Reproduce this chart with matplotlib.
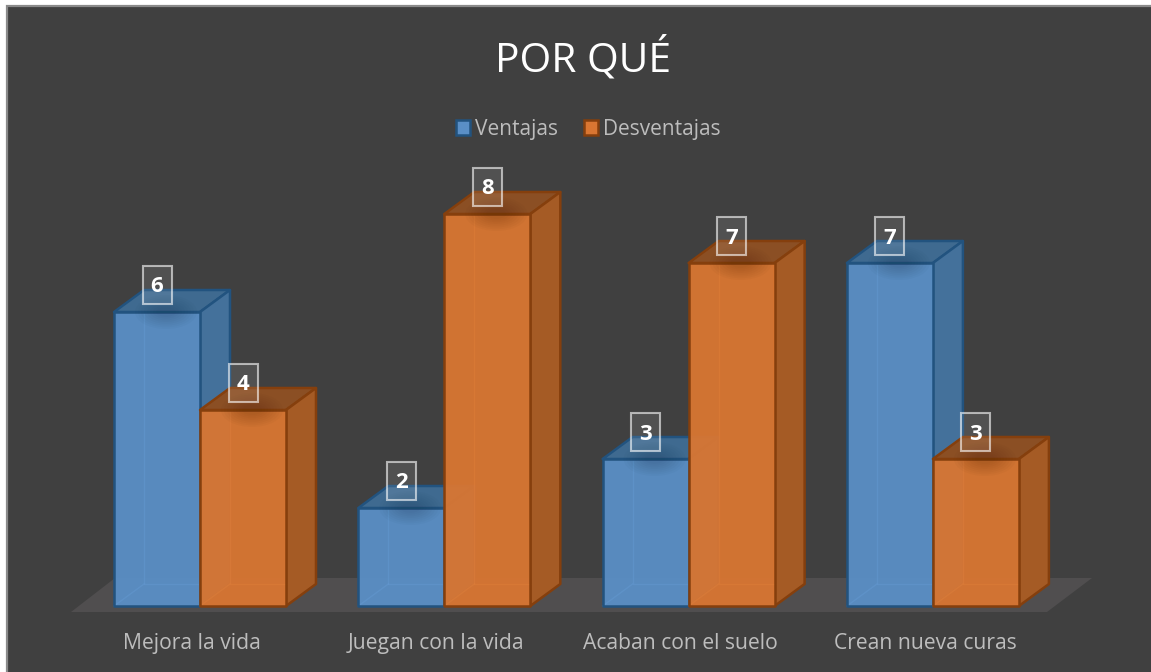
import matplotlib
matplotlib.use("Agg")
import matplotlib.pyplot as plt
from matplotlib.patches import Polygon, Rectangle, Ellipse

categories = ["Mejora la vida", "Juegan con la vida", "Acaban con el suelo", "Crean nueva curas"]
ventajas = [6, 2, 3, 7]
desventajas = [4, 8, 7, 3]
series_names = ["Ventajas", "Desventajas"]

W, H = 1151, 672
PX_X, PX_Y = 244.3, 49.0      # pixels per category / per value
X0_PX, Y0_PX = 200.0, 606.0   # pixel position of category 0 / value 0

plt.rcParams['font.family'] = ['Open Sans', 'DejaVu Sans']
fig = plt.figure(figsize=(W / 100, H / 100), dpi=100, facecolor="white")
ax = fig.add_axes([0, 0, 1, 1])
ax.set_xlim(-X0_PX / PX_X, (W - X0_PX) / PX_X)
ax.set_ylim(-(H - Y0_PX) / PX_Y, Y0_PX / PX_Y)
ax.axis("off")

bw = 86 / PX_X
dx, dy = 30 / PX_X, 22 / PX_Y
BG = "#404040"


def px(xp):
    return (xp - X0_PX) / PX_X


def py(yp):
    return (Y0_PX - yp) / PX_Y


# chart area with its frame; white margin on the left and top only
ax.add_patch(Rectangle((px(6.5), py(H + 5)), (W + 5 - 6.5) / PX_X, (H + 5 - 5.5) / PX_Y,
                       fc=BG, ec="#8a8a8a", lw=1.6, zorder=0))

ax.add_patch(Polygon([(px(71), py(612)), (px(1047), py(612)), (px(1092), py(578)), (px(115), py(578))],
                     closed=True, fc="#504e4f", ec="none", zorder=1))

BLUE = dict(front="#5a8fc6", side="#44719b", top="#3f6a90", edge="#22537f", inner="#6aa2dc", glow="#16324e")
ORANGE = dict(front="#d97632", side="#a55b25", top="#8b4f24", edge="#853f0d", inner="#e8843a", glow="#4a2206")


def bar3d(x0, val, c, z):
    x1 = x0 + bw
    lw = 1.8
    front = [(x0, 0), (x1, 0), (x1, val), (x0, val)]
    side = [(x1, 0), (x1 + dx, dy), (x1 + dx, val + dy), (x1, val)]
    top = [(x0, val), (x1, val), (x1 + dx, val + dy), (x0 + dx, val + dy)]
    ax.add_patch(Polygon(top, closed=True, fc=c["top"], ec=c["edge"], lw=lw, joinstyle="round", zorder=z))
    ax.add_patch(Polygon(side, closed=True, fc=c["side"], ec=c["edge"], lw=lw, joinstyle="round", zorder=z))
    ax.add_patch(Polygon(front, closed=True, fc=c["front"], ec="none", alpha=.95, zorder=z + 0.1))
    ax.add_patch(Polygon(front, closed=True, fc="none", ec=c["edge"], lw=lw, joinstyle="round", zorder=z + 0.25))
    # back edges seen through the translucent front
    ax.plot([x0 + dx, x0 + dx, x1], [val, dy, dy], color=c["inner"], lw=1.0, alpha=.3, zorder=z + 0.2)
    ax.plot([x0, x0 + dx], [0, dy], color=c["inner"], lw=1.0, alpha=.3, zorder=z + 0.2)
    # soft shadow beneath the label
    for k in range(8):
        ax.add_patch(Ellipse((x0 + bw / 2 + 9 / PX_X, val), (62 - 6 * k) / PX_X, (34 - 3.5 * k) / PX_Y,
                             fc=c["glow"], ec="none", alpha=.03, zorder=z + 0.3))
    # value label
    ax.text(x0 + bw / 2, val + 25 / PX_Y, f"{val}", color="white", fontsize=16, fontweight="bold",
            ha="center", va="center", zorder=30)
    ax.add_patch(Rectangle((x0 + bw / 2 - 14.5 / PX_X, val + 8 / PX_Y), 29 / PX_X, 38 / PX_Y,
                           fc=(1, 1, 1, .09), ec=(1, 1, 1, .6), lw=1.5, zorder=29))


for i, cat in enumerate(categories):
    z = 10 + i
    bar3d(i - bw, ventajas[i], BLUE, z)
    bar3d(i, desventajas[i], ORANGE, z + 0.5)
    ax.text(i - 8 / PX_X, py(643.5), cat, color="#bdbdbd", fontsize=15.2, ha="center", va="center", zorder=30)

ax.text(px(583), py(59), "POR QUÉ", color="white", fontsize=29.3, ha="center", va="center", zorder=30)

# legend
for name, c, box_x, text_x in [(series_names[0], BLUE, 456, 475), (series_names[1], ORANGE, 584, 603)]:
    ax.add_patch(Rectangle((px(box_x), py(134.5)), 14 / PX_X, 14.5 / PX_Y, fc=c["front"], ec=c["edge"], lw=1.8, zorder=30))
    ax.text(px(text_x), py(129), name, color="#bdbdbd", fontsize=15, ha="left", va="center", zorder=30)

fig.savefig("out.png", dpi=100, facecolor="white")
